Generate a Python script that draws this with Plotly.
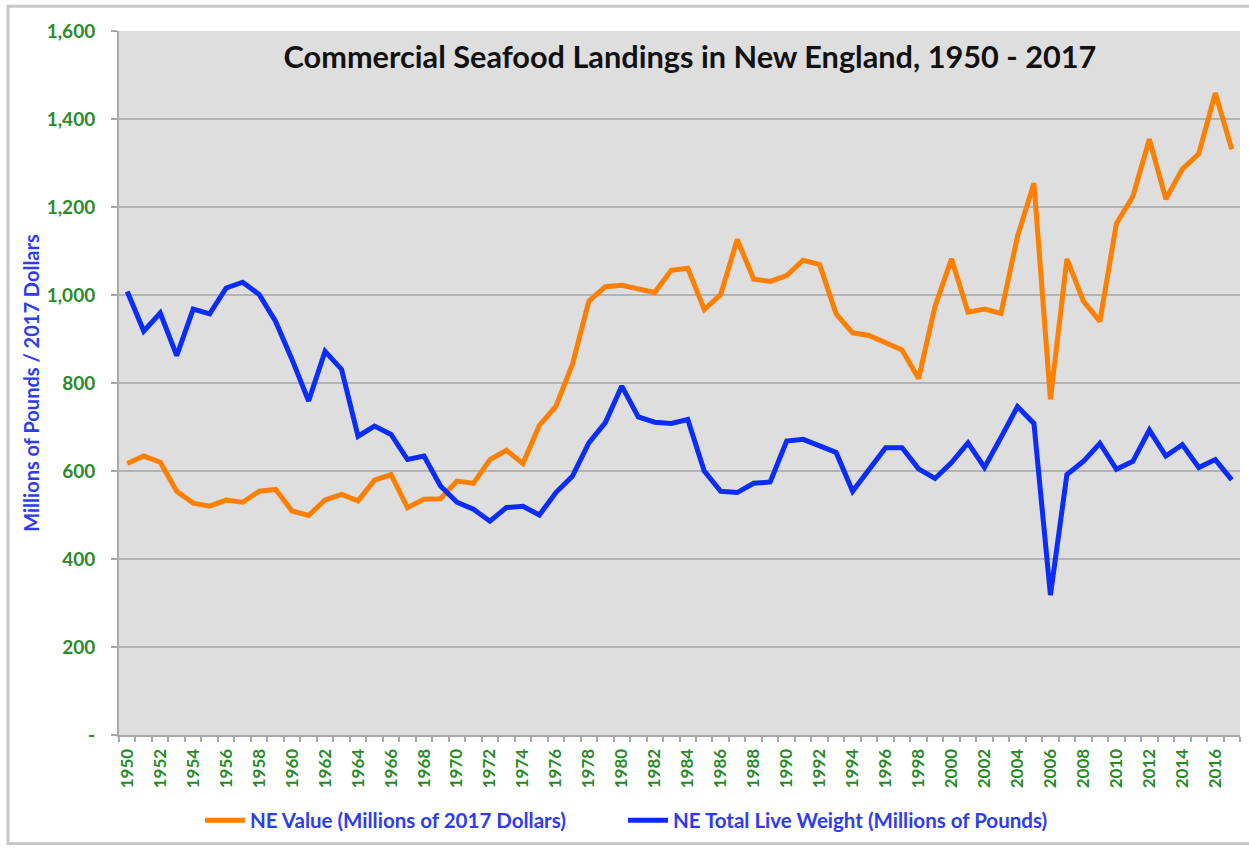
import plotly.graph_objects as go

years = list(range(1950, 2018))

ne_value = [617, 634, 620, 554, 527, 520, 534, 529, 554, 558,
            509, 499, 534, 547, 532, 579, 592, 517, 536, 537,
            577, 572, 626, 647, 617, 704, 747, 842, 986, 1019,
            1022, 1015, 1006, 1056, 1061, 967, 1001, 1126, 1036, 1031,
            1044, 1079, 1069, 957, 914, 908, 891, 875, 810, 974,
            1082, 961, 968, 958, 1133, 1254, 763, 1082, 986, 940,
            1162, 1224, 1354, 1218, 1286, 1321, 1459, 1331]

ne_weight = [1008, 918, 959, 862, 968, 957, 1016, 1029, 1001, 940,
             853, 759, 872, 831, 679, 702, 683, 626, 634, 566,
             529, 513, 486, 517, 520, 500, 551, 588, 664, 710,
             793, 723, 711, 708, 717, 600, 554, 551, 572, 575,
             668, 672, 657, 642, 554, 604, 653, 653, 605, 583,
             619, 664, 608, 676, 746, 708, 318, 592, 622, 663,
             604, 622, 693, 634, 660, 608, 626, 580]

y_ticks = [0, 200, 400, 600, 800, 1000, 1200, 1400, 1600]
y_ticktext = ["-", "200", "400", "600", "800", "1,000", "1,200", "1,400", "1,600"]
x_ticks = list(range(1950, 2018, 2))

title_text = "Commercial Seafood Landings in New England, 1950 - 2017"
y_title = "Millions of Pounds / 2017 Dollars"

GREEN = "#2a8a2a"
BLUE_TXT = "#2d3cf0"
FONT = "Lato, 'Open Sans', sans-serif"

fig = go.Figure()
fig.add_trace(go.Scatter(x=years, y=ne_value, mode="lines",
                         name="NE Value (Millions of 2017 Dollars)", legend="legend",
                         line=dict(color="#ff7f00", width=5)))
fig.add_trace(go.Scatter(x=years, y=ne_weight, mode="lines",
                         name="NE Total Live Weight (Millions of Pounds)", legend="legend2",
                         line=dict(color="#0a2cff", width=5)))

L, R, T, B = 119, 9, 31, 111
W, H = 1249, 850
pw = W - L - R
ph = H - T - B

def px_x(p):
    return (p - L) / pw

def px_y(p):
    return 1 - (p - T) / ph

legend_font = dict(size=20.5, color=BLUE_TXT, family=FONT, weight="bold")

fig.update_layout(
    width=W, height=H,
    margin=dict(l=L, r=R, t=T, b=B),
    paper_bgcolor="white",
    plot_bgcolor="#dedede",
    font=dict(family=FONT),
    showlegend=True,
    legend=dict(orientation="h", x=px_x(200), xanchor="left", y=px_y(825), yanchor="middle",
                font=legend_font, itemwidth=40, bgcolor="rgba(0,0,0,0)"),
    legend2=dict(orientation="h", x=px_x(623), xanchor="left", y=px_y(825), yanchor="middle",
                 font=legend_font, itemwidth=40, bgcolor="rgba(0,0,0,0)"),
    xaxis=dict(range=[1949.5, 2017.5], tickvals=x_ticks, ticktext=[str(v) for v in x_ticks],
               tickangle=-90, tickfont=dict(size=17, color=GREEN, family=FONT, weight="bold"),
               ticks="", showgrid=False, zeroline=False, ticklabelstandoff=5,
               showline=True, linecolor="#a8a8a8", linewidth=2,
               minor=dict(tickvals=[y + 0.5 for y in range(1949, 2018)], ticks="outside",
                          ticklen=5, tickcolor="#a8a8a8", tickwidth=1.5, showgrid=False)),
    yaxis=dict(range=[0, 1600], tickvals=y_ticks, ticktext=y_ticktext,
               tickfont=dict(size=19, color=GREEN, family=FONT, weight="bold"),
               showgrid=True, gridcolor="#b3b3b3", gridwidth=2, ticklabelstandoff=12,
               zeroline=False, showline=True, linecolor="#a8a8a8", linewidth=2,
               ticks="outside", ticklen=6, tickcolor="#a8a8a8", tickwidth=2,
               title=dict(text=y_title, font=dict(size=20, color=BLUE_TXT, family=FONT, weight="bold"),
                          standoff=2)),
    title=dict(text=title_text, x=px_x(690), xref="paper", xanchor="center",
               y=px_y(57), yref="paper", yanchor="middle",
               font=dict(size=30.7, color="#111111", family=FONT, weight="bold")),
)

fig.add_shape(type="rect", xref="paper", yref="paper",
              x0=px_x(8), x1=px_x(1262), y0=px_y(848), y1=px_y(6),
              line=dict(color="#c8c8c8", width=3), fillcolor="rgba(0,0,0,0)", layer="below")

fig.write_html("out.html", config={"displayModeBar": False},
               post_script="document.body.style.margin='0';")
